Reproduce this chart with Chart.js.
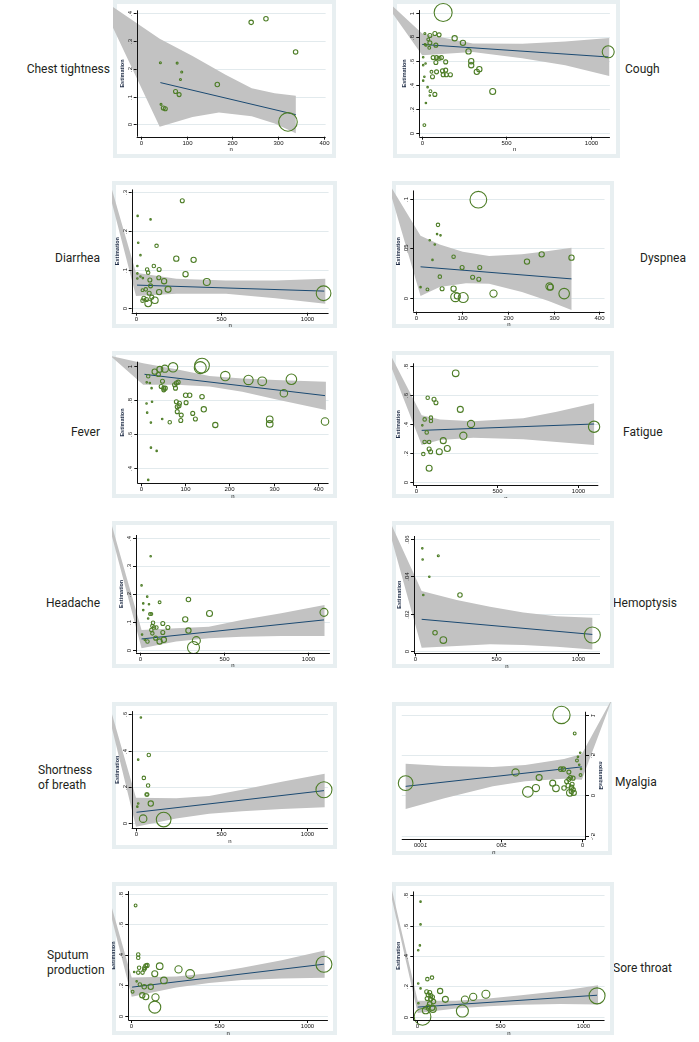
<!DOCTYPE html>
<html>
<head>
<meta charset="utf-8">
<script src="https://cdn.jsdelivr.net/npm/chart.js@4.4.1/dist/chart.umd.min.js"></script>
<style>
  body { margin: 0; background: #fff; width: 699px; height: 1042px; position: relative; overflow: hidden; }
  .lbl { position: absolute; font-family: Roboto, "Open Sans", sans-serif; font-size: 12px; line-height: 15px; color: #231f20; white-space: nowrap; }
</style>
</head>
<body>
<div class="lbl" style="top:62px; right:589px; text-align:right">Chest tightness</div>
<div class="lbl" style="top:62px; left:625px">Cough</div>
<div class="lbl" style="top:251px; right:599px; text-align:right">Diarrhea</div>
<div class="lbl" style="top:251px; left:640px">Dyspnea</div>
<div class="lbl" style="top:425px; right:599px; text-align:right">Fever</div>
<div class="lbl" style="top:425px; left:623px">Fatigue</div>
<div class="lbl" style="top:596px; right:599px; text-align:right">Headache</div>
<div class="lbl" style="top:596px; left:613px">Hemoptysis</div>
<div class="lbl" style="top:763px; left:38px">Shortness<br>of breath</div>
<div class="lbl" style="top:775px; left:615px">Myalgia</div>
<div class="lbl" style="top:948px; left:47px">Sputum<br>production</div>
<div class="lbl" style="top:961px; left:613px">Sore throat</div>

<script>
// ---- data: [n, estimate, weight] per study, fitted line, CI band edges ----
const chestPts = [[43,0.221,1],[79.5,0.22,1],[89.5,0.188,1],[86.7,0.161,1],[76,0.118,4],[83.8,0.107,4],[44.4,0.072,1],[49.4,0.059,4],[53.7,0.056,4],[167,0.143,5],[240.8,0.366,5],[273,0.379,5],[337.6,0.26,5],[321,0.009,86]];
const chestFit = [[43,0.15],[338,0.035]];
const chestUp = [[41.5,0.307],[113,0.245],[185,0.178],[242,0.13],[292,0.112],[338,0.103]];
const chestLo = [[41.5,-0.008],[113,0.027],[170.6,0.043],[242,0.029],[292,0.003],[338,-0.032]];
const chestApex = [-92,0.457];

const coughPts = [[127,1.0,81],[19,0.826,1],[48.6,0.81,4],[78,0.826,4],[103,0.815,4],[195,0.787,7],[244,0.749,7],[277,0.678,7],[293,0.597,7],[293,0.564,7],[341,0.531,7],[326,0.509,7],[420,0.346,9],[1103,0.675,36],[39,0.777,2],[48.6,0.749,4],[44.8,0.708,2],[25,0.73,1],[84,0.73,4],[68,0.627,4],[88,0.627,4],[103,0.621,4],[117,0.627,4],[84,0.586,4],[142,0.591,4],[58,0.509,2],[88,0.509,4],[123,0.517,4],[142,0.523,4],[170,0.485,4],[146,0.485,4],[64,0.468,4],[127,0.485,4],[9,0.564,0.6],[23,0.578,0.6],[16,0.468,0.6],[9,0.436,0.6],[35,0.382,0.6],[52,0.349,2],[48,0.313,0.6],[78,0.322,4],[25,0.251,0.6],[16,0.068,2],[9,0.63,0.6],[19,0.736,0.6]];
const coughFit = [[3,0.736],[1103,0.632]];
const coughUp = [[3,0.826],[302,0.744],[595,0.741],[849,0.76],[1109,0.79]];
const coughLo = [[3,0.646],[302,0.673],[595,0.621],[849,0.564],[1109,0.474]];
const coughApex = [-262,1.17];

const diarrPts = [[272,0.277,4],[11.6,0.238,0.6],[87,0.229,0.6],[15,0.169,0.6],[28,0.137,0.6],[122,0.161,3],[237,0.128,7],[338,0.125,7],[10,0.109,0.6],[106,0.109,3],[67,0.1,3],[137,0.1,4],[73,0.092,3],[291,0.088,7],[28,0.082,0.6],[42,0.078,0.6],[83,0.073,4],[166,0.07,7],[135,0.079,4],[415,0.068,12],[87,0.058,4],[189,0.049,9],[40,0.047,2],[59,0.049,3],[137,0.042,7],[79,0.039,4],[48,0.026,4],[40,0.02,3],[73,0.013,11],[112,0.021,11],[94,0.029,4],[63,0.023,4],[1096,0.039,54],[10,0.09,0.6],[10,0.077,0.6]];
const diarrFit = [[8,0.06],[1100,0.0445]];
const diarrUp = [[2,0.092],[237,0.076],[527,0.072],[816,0.072],[1106,0.076]];
const diarrLo = [[2,0.032],[237,0.038],[527,0.038],[816,0.026],[1106,0.012]];
const diarrApex = [-327,0.593];

const dyspPts = [[136,0.0996,70],[48,0.074,3],[46,0.0646,0.6],[53.5,0.0633,0.6],[30,0.0583,0.6],[41,0.054,0.6],[36,0.0383,0.6],[82,0.0416,3],[100.6,0.0306,4],[139,0.0306,4],[123.5,0.0206,4],[137,0.0186,4],[52,0.0213,3],[242,0.0366,7],[274,0.044,7],[339,0.0406,7],[10,0.0106,0.6],[25,0.0083,2],[57,0.009,4],[82,0.009,7],[86,0.0006,22],[90,0.0016,9],[103,0,25],[169,0.004,13],[291,0.0113,13],[293,0.0105,9],[323,0.004,28]];
const dyspFit = [[10,0.0313],[339,0.019]];
const dyspUp = [[10,0.063],[51.7,0.054],[102,0.0466],[159.5,0.0423],[231,0.044],[289,0.0473],[339,0.0506]];
const dyspLo = [[10,0.0016],[51.7,0.0107],[109,0.0146],[159.5,0.014],[231,0.0056],[289,-0.0034],[339,-0.0127]];
const dyspApex = [-64,0.12];

const feverPts = [[138,1.002,54],[134,0.99,36],[72.5,0.992,22],[54,0.984,13],[42.6,0.98,9],[31,0.9665,7],[39.5,0.95,4],[16.4,0.94,3],[13,0.904,0.6],[48.6,0.91,4],[20,0.9,0.6],[24,0.87,0.6],[45.7,0.88,4],[51.6,0.87,4],[55,0.87,4],[51.6,0.86,4],[80,0.9,4],[84,0.905,4],[76,0.89,4],[78,0.87,4],[190.6,0.941,22],[243,0.918,22],[274,0.91,19],[340,0.922,28],[323,0.84,14],[101,0.828,5],[110,0.828,5],[138,0.82,5],[80,0.79,4],[87,0.781,4],[102,0.785,4],[12.6,0.78,0.6],[25,0.79,0.6],[82,0.761,4],[86,0.767,4],[142,0.746,7],[82,0.732,4],[14,0.726,0.6],[91,0.712,4],[117,0.722,4],[123,0.689,4],[90,0.68,4],[48,0.689,0.6],[65,0.67,3],[22.4,0.668,0.6],[168,0.654,7],[291,0.687,11],[291,0.66,11],[416,0.674,14],[22.5,0.521,0.6],[35.5,0.502,0.6],[16.4,0.332,0.6]];
const feverFit = [[8,0.951],[416,0.826]];
const feverUp = [[5,1.016],[80,0.981],[154.7,0.941],[229,0.926],[304,0.918],[418,0.908]];
const feverLo = [[5,0.89],[80,0.89],[154.7,0.879],[229,0.849],[304,0.805],[418,0.742]];
const feverApex = [-69.5,1.06];

const fatigPts = [[244.5,0.75,11],[72,0.581,3],[111,0.57,4],[123,0.546,4],[273,0.5,9],[53.4,0.431,3],[92,0.443,3],[92,0.42,3],[339,0.399,13],[39,0.39,0.6],[66,0.341,3],[291.6,0.318,13],[53,0.275,3],[81,0.275,3],[168,0.284,9],[81,0.226,4],[90,0.207,4],[193,0.23,9],[143.6,0.207,9],[45,0.191,3],[81,0.0925,9],[1097,0.38,32]];
const fatigFit = [[35,0.355],[1097,0.399]];
const fatigUp = [[35,0.459],[148,0.431],[353,0.418],[661,0.438],[867,0.484],[1097,0.542]];
const fatigLo = [[35,0.254],[148,0.288],[353,0.304],[661,0.293],[867,0.275],[1097,0.254]];
const fatigApex = [-259,1.1];

const headPts = [[64,0.334,0.6],[10,0.23,0.6],[43.5,0.19,0.6],[20,0.166,0.6],[20,0.142,0.6],[54,0.163,0.6],[117,0.17,2],[288,0.18,5],[49,0.112,0.6],[68,0.128,2],[60,0.128,2],[269,0.109,7],[413,0.13,9],[78,0.097,3],[74,0.085,3],[84,0.08,3],[98,0.08,3],[68,0.071,3],[74,0.059,3],[136,0.094,4],[166,0.08,4],[136,0.062,4],[288,0.069,7],[93.5,0.042,4],[117,0.03,7],[142,0.036,7],[45,0.03,3],[29,0.036,0.6],[335,0.033,16],[318,0.0083,36],[1092,0.134,16],[13,0.0546,0.6]];
const headFit = [[10,0.039],[1092,0.107]];
const headUp = [[10,0.0712],[214.6,0.0772],[409,0.083],[604,0.107],[838,0.131],[1095,0.16]];
const headLo = [[10,0.006],[214.6,0.0297],[409,0.0415],[604,0.047],[838,0.0498],[1095,0.0498]];
const headApex = [-403,0.944];

const hemoPts = [[45,0.055,0.6],[47,0.049,0.6],[143,0.051,1],[88,0.0398,0.6],[51,0.03,0.6],[276,0.03,5],[123,0.0098,5],[174,0.0059,11],[1088,0.0086,64]];
const hemoFit = [[41,0.017],[1088,0.0089]];
const hemoUp = [[41,0.0321],[256,0.0273],[460,0.0237],[664.6,0.0207],[869,0.0187],[1088,0.0178]];
const hemoLo = [[41,0.0018],[256,0.0027],[460,0.0036],[664.6,0.0032],[869,0.0023],[1088,0.0009]];
const hemoApex = [-204,0.079];

const sobPts = [[30.7,0.582,0.6],[77,0.376,3],[15,0.35,0.6],[48,0.25,3],[73,0.208,3],[64,0.159,3],[68,0.159,3],[15,0.109,0.6],[10,0.092,0.6],[88.6,0.109,7],[44,0.026,14],[164,0.021,54],[1102,0.185,64]];
const sobFit = [[5,0.061],[1102,0.18]];
const sobUp = [[2,0.141],[237,0.1376],[430,0.15],[623,0.185],[855,0.229],[1106,0.273]];
const sobLo = [[2,-0.018],[237,0.0265],[430,0.053],[623,0.0667],[855,0.079],[1106,0.088]];
const sobApex = [-270,1.03];

const myalPts = [[132,1.0,75],[50,0.77,2],[16,0.53,0.6],[36,0.435,2],[11,0.33,0.6],[14,0.254,2],[136,0.327,5],[120,0.327,5],[86,0.29,4],[416,0.286,13],[270,0.222,9],[76,0.222,4],[60,0.215,4],[86,0.2,4],[100,0.173,4],[186,0.153,9],[1096,0.153,54],[290,0.092,13],[166,0.088,11],[340,0.044,28],[116,0.092,5],[80,0.032,11],[56,0.032,7],[66,0.14,4],[90,0.12,5],[70,0.1,5],[60,0.07,5],[72,0.05,4],[30,0.48,0.6],[22,0.38,0.6]];
const myalFit = [[6,0.355],[1096,0.113]];
const myalUp = [[6,0.516],[116,0.452],[356,0.379],[556,0.355],[856,0.367],[1096,0.395]];
const myalLo = [[6,0.194],[116,0.209],[356,0.177],[556,0.113],[856,-0.036],[1096,-0.17]];
const myalApex = [-186,1.22];

const sputPts = [[28,0.722,2],[43,0.401,3],[43,0.38,3],[48,0.315,3],[20,0.287,0.6],[34,0.226,0.6],[11,0.158,2],[43,0.283,3],[67.5,0.283,3],[77,0.304,3],[86,0.327,4],[93.6,0.33,4],[80,0.315,4],[165,0.325,11],[272,0.304,13],[338,0.274,19],[137,0.275,9],[189,0.232,11],[52,0.205,3],[114,0.19,7],[77,0.19,5],[66,0.135,7],[86,0.125,9],[141,0.121,13],[137,0.057,36],[1099,0.338,64]];
const sputFit = [[8,0.188],[1099,0.338]];
const sputUp = [[5.6,0.251],[259,0.258],[446,0.278],[634,0.315],[859,0.363],[1103,0.427]];
const sputLo = [[5.6,0.125],[259,0.186],[446,0.215],[634,0.234],[859,0.245],[1103,0.249]];
const sputApex = [-251,1.29];

const sorePts = [[20,0.758,0.6],[20,0.608,0.6],[16,0.47,0.6],[6,0.438,0.6],[61,0.248,3],[89,0.258,3],[6,0.219,0.6],[20,0.187,0.6],[138,0.17,7],[57,0.165,4],[66,0.145,4],[75,0.16,4],[82,0.14,4],[92,0.13,4],[60,0.12,4],[81,0.117,4],[169.5,0.115,9],[287.6,0.113,13],[337,0.131,13],[413.5,0.148,16],[98,0.1,5],[75,0.085,5],[66,0.065,5],[90,0.06,7],[51,0.042,11],[94.5,0.051,11],[272,0.038,36],[32,0,70],[1083,0.138,64],[7,0.089,0.6]];
const soreFit = [[3,0.064],[1083,0.142]];
const soreUp = [[3,0.106],[233,0.106],[429,0.121],[626,0.142],[862,0.17],[1089,0.208]];
const soreLo = [[3,0.025],[233,0.055],[429,0.07],[626,0.079],[862,0.085],[1089,0.081]];
const soreApex = [-626,3.06];

// tick labels
const nTicks400 = [0, 100, 200, 300, 400];
const nTicks1000 = [0, 500, 1000];
const chestY = [0, 0.1, 0.2, 0.3, 0.4];
const coughY = [0, 0.2, 0.4, 0.6, 0.8, 1];
const diarrY = [0, 0.1, 0.2, 0.3];
const dyspY = [0, 0.05, 0.1];
const feverY = [0.4, 0.6, 0.8, 1];
const fatigY = [0, 0.2, 0.4, 0.6, 0.8];
const headY = [0, 0.1, 0.2, 0.3, 0.4];
const hemoY = [0, 0.02, 0.04, 0.06];
const sobY = [0, 0.2, 0.4, 0.6];
const myalY = [-0.5, 0, 0.5, 1];
const sputY = [0, 0.2, 0.4, 0.6, 0.8];
const soreY = [0, 0.2, 0.4, 0.6, 0.8];

const BG = '#e8eff1', GRID = '#e2eaed', BAND = '#c2c2c2', GREEN = '#4d7d26', NAVY = '#1b4a72';

// box = canvas [left, top, w, h]; area = plot region [l, t, r, b] (page px)
const panels = [
  {pts: chestPts, fit: chestFit, up: chestUp, lo: chestLo, apex: chestApex, xt: nTicks400, yt: chestY, box: [113, 0, 223, 158], area: [136.7, 8.3, 328.3, 136.7], xr: [-8.6, 403], yr: [-0.044, 0.409]},
  {pts: coughPts, fit: coughFit, up: coughUp, lo: coughLo, apex: coughApex, xt: nTicks1000, yt: coughY, box: [393, 0, 227, 158], area: [419.3, 8.3, 611.7, 136.7], xr: [-14, 1113], yr: [-0.028, 1.02]},
  {pts: diarrPts, fit: diarrFit, up: diarrUp, lo: diarrLo, apex: diarrApex, xt: nTicks1000, yt: diarrY, box: [112, 181, 225, 147], area: [131.7, 189.3, 330, 312.7], xr: [-23, 1125], yr: [-0.011, 0.306]},
  {pts: dyspPts, fit: dyspFit, up: dyspUp, lo: dyspLo, apex: dyspApex, xt: nTicks400, yt: dyspY, box: [392, 181, 222, 147], area: [413.3, 188.3, 606.7, 311.7], xr: [-5.8, 411], yr: [-0.0144, 0.109]},
  {pts: feverPts, fit: feverFit, up: feverUp, lo: feverLo, apex: feverApex, xt: nTicks400, yt: feverY, box: [112, 351, 225, 147], area: [137.3, 361.7, 330, 483.3], xr: [-8.3, 424], yr: [0.312, 1.025]},
  {pts: fatigPts, fit: fatigFit, up: fatigUp, lo: fatigLo, apex: fatigApex, xt: nTicks1000, yt: fatigY, box: [392, 351, 222, 147], area: [413.3, 363.3, 598.3, 485], xr: [-16.6, 1123], yr: [-0.023, 0.819]},
  {pts: headPts, fit: headFit, up: headUp, lo: headLo, apex: headApex, xt: nTicks1000, yt: headY, box: [112, 521, 225, 147], area: [136, 535, 332.7, 652.7], xr: [-23, 1127], yr: [-0.01, 0.41]},
  {pts: hemoPts, fit: hemoFit, up: hemoUp, lo: hemoLo, apex: hemoApex, xt: nTicks1000, yt: hemoY, box: [392, 521, 222, 147], area: [414, 536, 600, 653.3], xr: [-6, 1135], yr: [-0.0012, 0.0616]},
  {pts: sobPts, fit: sobFit, up: sobUp, lo: sobLo, apex: sobApex, xt: nTicks1000, yt: sobY, box: [112, 702, 225, 147], area: [131.7, 706.7, 330, 828.3], xr: [-23, 1125], yr: [-0.027, 0.617]},
  {pts: myalPts, fit: myalFit, up: myalUp, lo: myalLo, apex: myalApex, xt: nTicks1000, yt: myalY, box: [392, 702, 220, 153], area: [418, 708.3, 608, 839.3], xr: [-20, 1120], yr: [-0.545, 1.04], mirror: true},
  {pts: sputPts, fit: sputFit, up: sputUp, lo: sputLo, apex: sputApex, xt: nTicks1000, yt: sputY, box: [112, 882, 225, 153], area: [128.3, 886.7, 330, 1020], xr: [-13.5, 1121.5], yr: [-0.027, 0.816]},
  {pts: sorePts, fit: soreFit, up: soreUp, lo: soreLo, apex: soreApex, xt: nTicks1000, yt: soreY, box: [392, 882, 222, 153], area: [413.3, 886.7, 608.3, 1020], xr: [-23.6, 1128], yr: [-0.021, 0.825]}
];

function fmt(v) {
  if (v === 0) return '0';
  return String(+v.toFixed(4)).replace(/^(-?)0\./, '$1.');
}

// Stata-like frame, grid, CI band and axes
function stataPlugin(p) {
  return {
    id: 'stataLook',
    beforeDraw(chart) {
      const c = chart.ctx, a = chart.chartArea, ys = chart.scales.y;
      c.save();
      c.fillStyle = BG;
      c.fillRect(0, 0, chart.width, chart.height);
      c.fillStyle = '#fff';
      c.fillRect(4, 4, chart.width - 8, chart.height - 8);
      c.strokeStyle = GRID;
      c.lineWidth = 1;
      p.yt.forEach(v => {
        const y = Math.round(ys.getPixelForValue(v)) + 0.5;
        c.beginPath(); c.moveTo(a.left, y); c.lineTo(a.right, y); c.stroke();
      });
      c.restore();
    },
    beforeDatasetsDraw(chart) {
      const c = chart.ctx, xs = chart.scales.x, ys = chart.scales.y;
      const poly = [p.apex].concat(p.up, p.lo.slice().reverse());
      c.save();
      c.fillStyle = BAND;
      c.beginPath();
      poly.forEach((d, i) => {
        const px = xs.getPixelForValue(d[0]), py = ys.getPixelForValue(d[1]);
        if (i) c.lineTo(px, py); else c.moveTo(px, py);
      });
      c.closePath();
      c.fill();
      c.restore();
    },
    afterDraw(chart) {
      const c = chart.ctx, a = chart.chartArea, xs = chart.scales.x, ys = chart.scales.y;
      c.save();
      c.strokeStyle = '#111';
      c.lineWidth = 1;
      c.beginPath();
      c.moveTo(Math.round(a.left) + 0.5, a.top);
      c.lineTo(Math.round(a.left) + 0.5, a.bottom);
      c.moveTo(a.left, Math.round(a.bottom) + 0.5);
      c.lineTo(a.right, Math.round(a.bottom) + 0.5);
      c.stroke();
      c.fillStyle = '#111';
      c.font = '6px "Liberation Sans", Arial, sans-serif';
      // y ticks, rotated labels
      p.yt.forEach(v => {
        const y = Math.round(ys.getPixelForValue(v)) + 0.5;
        c.beginPath(); c.moveTo(a.left - 3, y); c.lineTo(a.left, y); c.stroke();
        c.save();
        c.translate(a.left - 5, y);
        c.rotate(-Math.PI / 2);
        c.textAlign = 'center';
        c.textBaseline = 'alphabetic';
        c.fillText(fmt(v), 0, 0);
        c.restore();
      });
      // x ticks
      c.textAlign = 'center';
      c.textBaseline = 'top';
      p.xt.forEach(v => {
        const x = Math.round(xs.getPixelForValue(v)) + 0.5;
        c.beginPath(); c.moveTo(x, a.bottom); c.lineTo(x, a.bottom + 3); c.stroke();
        c.fillText(String(v), x, a.bottom + 3.5);
      });
      c.fillText('n', (a.left + a.right) / 2, a.bottom + 10);
      // y title
      c.save();
      c.translate(a.left - 13, (a.top + a.bottom) / 2);
      c.rotate(-Math.PI / 2);
      c.fillStyle = '#1d2b45';
      c.font = 'bold 5.5px "Liberation Sans", Arial, sans-serif';
      c.textAlign = 'center';
      c.textBaseline = 'alphabetic';
      c.fillText('Estimation', 0, 0);
      c.restore();
      c.restore();
    }
  };
}

panels.forEach(p => {
  const cv = document.createElement('canvas');
  cv.width = p.box[2];
  cv.height = p.box[3];
  cv.style.cssText = 'position:absolute;left:' + p.box[0] + 'px;top:' + p.box[1] + 'px;width:' + p.box[2] + 'px;height:' + p.box[3] + 'px' + (p.mirror ? ';transform:scaleX(-1)' : '');
  document.body.appendChild(cv);
  new Chart(cv, {
    type: 'scatter',
    data: {
      datasets: [
        {
          data: p.pts.map(d => ({x: d[0], y: d[1]})),
          pointRadius: p.pts.map(d => Math.sqrt(d[2])),
          pointBorderColor: GREEN,
          pointBackgroundColor: 'rgba(0,0,0,0)',
          pointBorderWidth: 1.1,
          clip: false
        },
        {
          data: p.fit.map(d => ({x: d[0], y: d[1]})),
          showLine: true,
          borderColor: NAVY,
          borderWidth: 1,
          pointRadius: 0
        }
      ]
    },
    options: {
      responsive: false,
      animation: false,
      devicePixelRatio: 1,
      events: [],
      layout: {
        padding: {
          left: p.area[0] - p.box[0],
          top: p.area[1] - p.box[1],
          right: p.box[0] + p.box[2] - p.area[2],
          bottom: p.box[1] + p.box[3] - p.area[3]
        }
      },
      plugins: {legend: {display: false}, tooltip: {enabled: false}},
      scales: {
        x: {type: 'linear', display: false, min: p.xr[0], max: p.xr[1]},
        y: {type: 'linear', display: false, min: p.yr[0], max: p.yr[1]}
      }
    },
    plugins: [stataPlugin(p)]
  });
});
</script>
</body>
</html>
